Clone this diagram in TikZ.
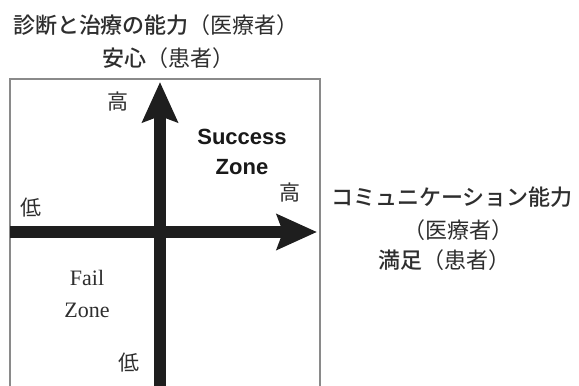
\documentclass[tikz,border=0pt]{standalone}
\usepackage{fontspec}
\setmainfont{Liberation Serif}
\newfontfamily\cjkfont{Noto Sans CJK JP}
\newfontfamily\cjkmed{Noto Sans CJK JP}[UprightFont=* Medium]
\newfontfamily\arialfont{Liberation Sans}
\usetikzlibrary{arrows.meta}
\definecolor{inkc}{HTML}{2E2E2E}
\definecolor{axisc}{HTML}{1E1E1E}
\definecolor{framec}{HTML}{8A8A8A}
\newcommand{\strongjp}[1]{{\cjkmed\fontsize{22}{25}\selectfont #1}}
\newcommand{\lightjp}[1]{{\cjkfont\fontsize{22}{25}\selectfont #1}}
\begin{document}
\begin{tikzpicture}[x=1pt,y=-1pt,
  titletext/.style={text=inkc, inner sep=0pt},
  levellabel/.style={font=\cjkfont\fontsize{21}{24}\selectfont, text=inkc, inner sep=0pt},
  zonebold/.style={font=\arialfont\bfseries\fontsize{22}{30}\selectfont, text=black!90, align=center, inner sep=0pt},
  zoneserif/.style={font=\fontsize{22}{32}\selectfont, text=inkc, align=center, inner sep=0pt},
  axisline/.style={line width=12pt, draw=axisc, -{Stealth[length=40pt,width=35pt,inset=6pt]}},
  frameline/.style={draw=framec, line width=1.2pt}]
\useasboundingbox (0,0) rectangle (579,386);
\clip (0,0) rectangle (579,386);
\fill[white] (0,0) rectangle (579,386);

% frame
\draw[frameline] (10,79) rectangle (320,400);

% axes
\coordinate (hstart) at (10,232);
\coordinate (hend) at (317,232);
\coordinate (vstart) at (160,395);
\coordinate (vend) at (160,82);
\draw[axisline] (vstart) -- (vend);
\draw[axisline] (hstart) -- (hend);

% top title
\node[titletext] (ytitle1) at (156,25) {\strongjp{診断と治療の能力}\lightjp{（医療者）}};
\node[titletext] (ytitle2) at (168,58) {\strongjp{安心}\lightjp{（患者）}};

% right title
\node[titletext] (xtitle1) at (452,197) {\strongjp{コミュニケーション能力}};
\node[titletext] (xtitle2) at (458,230) {\lightjp{（医療者）}};
\node[titletext] (xtitle3) at (444,260) {\strongjp{満足}\lightjp{（患者）}};

% level labels
\node[levellabel] (yhigh) at (118,102) {高};
\node[levellabel] (xhigh) at (290,193) {高};
\node[levellabel] (xlow) at (31,208) {低};
\node[levellabel] (ylow) at (129,363) {低};

% zones
\node[zonebold] (success) at (242,152) {Success\\Zone};
\node[zoneserif] (fail) at (87,294) {Fail\\Zone};
\end{tikzpicture}
\end{document}
